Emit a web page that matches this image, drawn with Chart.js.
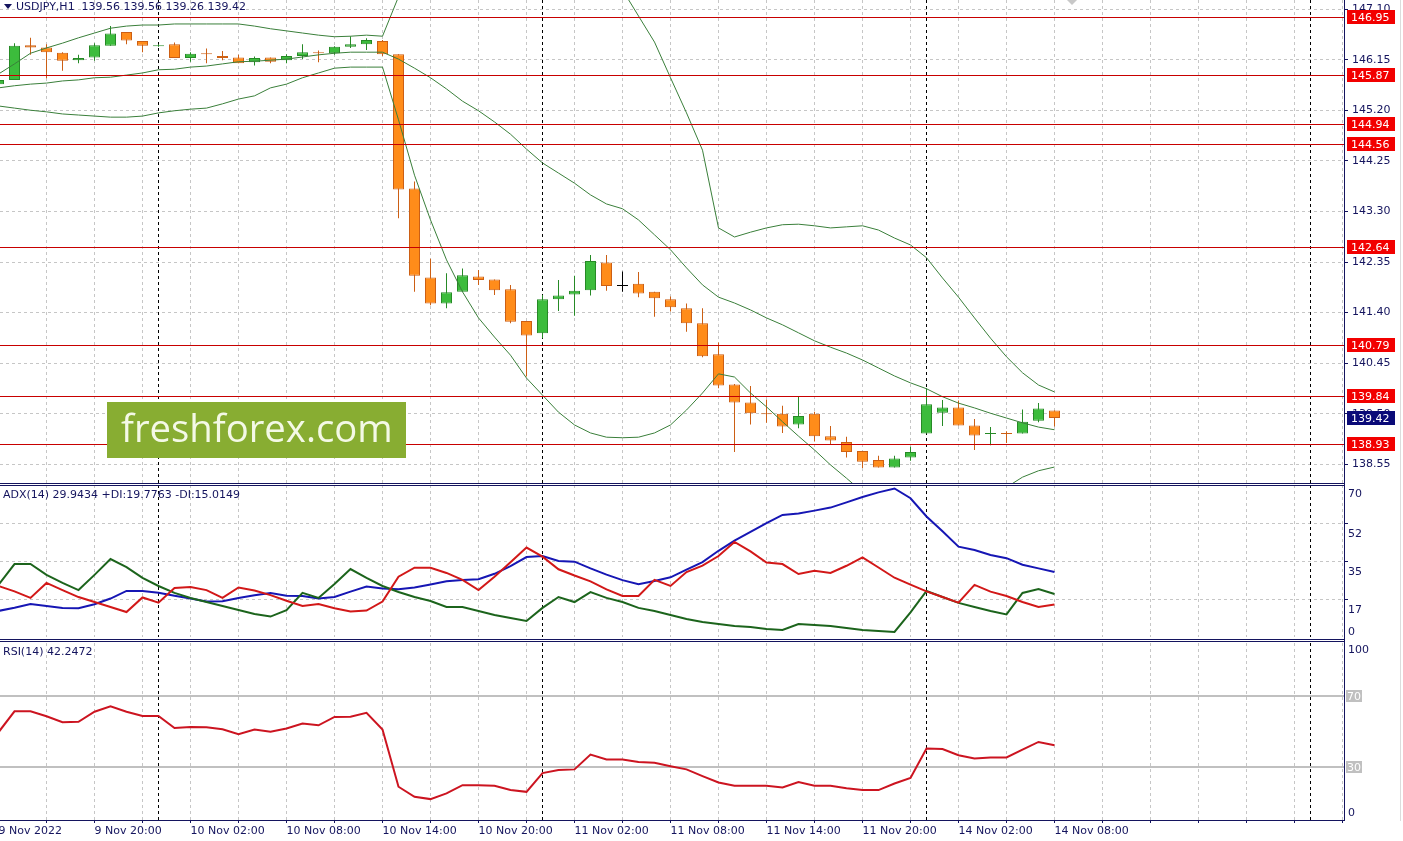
<!DOCTYPE html>
<html>
<head>
<meta charset="utf-8">
<script src="https://cdn.jsdelivr.net/npm/chart.js@4.4.0/dist/chart.umd.min.js"></script>
<style>
  html, body { margin: 0; padding: 0; background: #fff; }
  #wrap { position: relative; width: 1403px; height: 841px; overflow: hidden; background: #fff; }
  #wrap canvas { position: absolute; left: 0; }
  #edge { position: absolute; left: 1400px; top: 0; width: 1px; height: 821px; background: #dcdcdc; }
</style>
</head>
<body>
<div id="wrap">
  <canvas id="priceChart" width="1403" height="484" style="top:0px"></canvas>
  <canvas id="adxChart" width="1403" height="157" style="top:484px"></canvas>
  <canvas id="rsiChart" width="1403" height="200" style="top:641px"></canvas>
  <div id="edge"></div>
</div>
<script>
// ---------- data (one entry per H1 bar, 9 Nov 14:00 .. 14 Nov 08:00) ----------
const opens = [145.69,145.77,146.42,146.38,146.28,146.14,146.19,146.41,146.67,146.50,
  146.40,146.44,146.18,146.27,146.22,146.19,146.10,146.19,146.14,146.22,
  146.29,146.27,146.39,146.44,146.50,146.25,143.73,142.06,141.57,141.79,
  142.08,142.02,141.84,141.24,141.01,141.65,141.74,141.82,142.34,141.90,
  141.94,141.79,141.65,141.48,141.20,140.62,140.05,139.71,139.51,139.50,
  139.30,139.50,139.08,138.97,138.80,138.63,138.49,138.68,139.13,139.52,
  139.62,139.28,139.12,139.13,139.13,139.37,139.56];
const highs = [145.80,146.46,146.56,146.44,146.29,146.24,146.46,146.78,146.67,146.50,
  146.44,146.47,146.29,146.36,146.31,146.24,146.21,146.19,146.25,146.44,
  146.32,146.40,146.59,146.55,146.52,146.25,143.86,142.41,142.14,142.23,
  142.20,142.02,141.92,141.24,141.73,142.01,142.09,142.48,142.48,142.17,
  142.16,141.79,141.70,141.57,141.48,140.84,140.06,140.02,139.77,139.65,
  139.82,139.54,139.27,139.07,138.80,138.71,138.71,138.88,139.98,139.76,
  139.75,139.40,139.25,139.17,139.58,139.70,139.56];
const lows = [145.66,145.77,146.24,145.80,145.94,146.08,146.13,146.41,146.44,146.29,
  146.39,146.18,146.11,146.08,146.14,146.08,146.04,146.08,146.08,146.16,
  146.10,146.24,146.37,146.33,146.22,143.17,141.79,141.54,141.48,141.79,
  141.92,141.73,141.20,140.20,140.92,141.43,141.34,141.72,141.81,141.79,
  141.69,141.32,141.42,141.04,140.56,139.98,138.78,139.30,139.33,139.14,
  139.23,138.98,138.93,138.68,138.48,138.49,138.49,138.62,139.13,139.27,
  139.28,138.82,138.91,138.95,139.13,139.34,139.26];
const closes = [145.77,146.41,146.38,146.29,146.13,146.18,146.42,146.64,146.51,146.41,
  146.42,146.18,146.26,146.25,146.18,146.08,146.18,146.11,146.22,146.29,
  146.27,146.39,146.44,146.52,146.25,143.71,142.09,141.57,141.78,142.10,
  142.01,141.82,141.23,140.97,141.65,141.72,141.81,142.37,141.90,141.90,
  141.76,141.67,141.50,141.20,140.58,140.03,139.71,139.51,139.49,139.26,
  139.46,139.08,139.00,138.78,138.60,138.49,138.66,138.78,139.68,139.62,
  139.28,139.09,139.13,139.12,139.35,139.60,139.42];

const bbUpper = [145.88,146.07,146.27,146.37,146.46,146.56,146.65,146.74,146.78,146.80,
  146.80,146.82,146.82,146.82,146.82,146.82,146.78,146.73,146.69,146.65,
  146.61,146.58,146.59,146.61,146.59,147.33,147.91,148.40,148.62,148.90,
  149.02,149.05,148.92,148.68,148.57,148.43,148.27,148.02,147.74,147.46,
  146.97,146.48,145.81,145.15,144.45,142.99,142.82,142.91,142.99,143.05,
  143.06,143.03,142.99,143.01,143.03,142.95,142.80,142.67,142.43,142.05,
  141.69,141.30,140.92,140.57,140.27,140.04,139.91];
const bbMiddle = [145.62,145.66,145.69,145.71,145.75,145.77,145.81,145.82,145.86,145.90,
  145.96,145.97,146.01,146.03,146.07,146.11,146.12,146.14,146.16,146.20,
  146.24,146.27,146.29,146.29,146.29,146.16,145.99,145.81,145.60,145.37,
  145.19,144.98,144.75,144.47,144.21,144.02,143.83,143.61,143.44,143.35,
  143.14,142.86,142.58,142.24,141.92,141.69,141.58,141.45,141.30,141.17,
  141.02,140.87,140.75,140.64,140.51,140.36,140.21,140.08,139.97,139.82,
  139.70,139.61,139.51,139.42,139.33,139.25,139.20];
const bbLower = [145.28,145.24,145.20,145.17,145.13,145.11,145.09,145.07,145.07,145.09,
  145.15,145.19,145.22,145.24,145.32,145.41,145.47,145.62,145.69,145.81,
  145.90,145.99,146.01,146.01,146.01,145.02,143.98,143.14,142.39,141.79,
  141.30,140.94,140.60,140.17,139.85,139.53,139.29,139.14,139.06,139.05,
  139.06,139.14,139.29,139.57,139.89,140.25,140.19,139.89,139.63,139.35,
  139.08,138.82,138.54,138.29,138.03,137.79,137.66,137.60,137.66,137.73,
  137.79,137.88,137.97,138.12,138.31,138.43,138.50];

const adx = [12.0,13.5,15.2,14.3,13.4,13.2,15.1,17.7,21.2,21.2,
  20.4,19.0,17.7,16.4,16.5,18.0,19.2,20.3,19.0,18.9,
  17.7,18.4,20.9,23.2,22.3,22.0,22.8,24.2,25.7,26.3,
  26.6,29.1,32.6,36.8,37.3,35.0,34.7,31.6,28.7,26.2,
  24.3,25.8,27.5,31.0,34.5,39.7,44.4,48.4,52.4,56.2,
  56.9,58.2,59.6,62.0,64.5,66.6,68.4,63.9,55.5,48.7,
  41.6,40.1,37.8,36.3,33.3,31.6,29.94];
const plusDI = [24.0,33.6,33.6,28.6,24.9,21.6,28.6,35.9,32.2,27.2,
  23.5,20.3,18.0,16.1,14.3,12.4,10.6,9.4,12.4,20.3,
  18.0,24.4,31.3,27.2,23.5,20.7,18.4,16.6,13.8,13.8,
  12.0,10.1,8.8,7.4,13.4,18.4,16.1,20.7,18.0,16.1,
  13.4,12.0,10.1,8.3,6.9,6.0,5.1,4.6,3.7,3.2,
  6.0,5.5,5.1,4.1,3.2,2.8,2.3,11.3,21.2,18.4,
  15.7,13.8,12.0,10.4,20.3,22.1,19.78];
const minusDI = [23.5,21.0,18.0,24.9,21.6,18.4,16.1,13.8,11.5,18.2,
  15.8,22.6,23.0,21.6,18.0,22.8,21.4,19.3,16.7,14.3,
  15.2,13.2,11.7,12.2,16.3,27.8,31.9,31.9,29.5,26.3,
  21.6,27.7,34.4,41.2,37.0,31.2,28.3,25.6,21.9,18.9,
  18.9,26.3,23.5,29.9,32.9,37.3,43.8,39.4,34.3,33.6,
  29.0,30.5,29.5,32.8,36.7,32.0,27.3,24.1,21.0,18.4,
  15.8,24.0,20.9,18.9,16.1,13.8,15.01];
const rsi = [49.6,61.4,61.4,58.6,55.2,55.5,61.2,64.2,61.2,58.8,
  58.8,52.0,52.6,52.4,51.3,48.5,51.1,49.9,51.7,54.5,
  53.5,58.2,58.4,60.6,51.1,18.8,13.1,11.8,15.0,19.7,
  19.7,19.3,16.9,15.9,26.5,28.2,28.6,37.0,34.2,34.2,
  32.8,32.3,30.4,28.6,24.8,21.2,19.4,19.3,19.3,18.4,
  21.4,19.4,19.3,17.9,16.9,16.9,20.6,23.7,40.4,40.1,
  36.6,34.8,35.3,35.3,39.8,44.1,42.25];

const priceTicks = [147.10, 146.15, 145.20, 144.25, 143.30, 142.35, 141.40, 140.45, 139.50, 138.55];
const levels = [146.95, 145.87, 144.94, 144.56, 142.64, 140.79, 139.84, 138.93];
const lastPrice = 139.42;
const adxTicks = [0, 17.5, 35, 52.5, 70];
const adxTickLabels = ['0', '17', '35', '52', '70'];
const rsiLevels = [70, 30];
const timeLabelBars = [0, 6, 12, 18, 24, 30, 36, 42, 48, 54, 60, 66];
const timeLabels = ['9 Nov 2022', '9 Nov 20:00', '10 Nov 02:00', '10 Nov 08:00', '10 Nov 14:00',
  '10 Nov 20:00', '11 Nov 02:00', '11 Nov 08:00', '11 Nov 14:00', '11 Nov 20:00',
  '14 Nov 02:00', '14 Nov 08:00'];
const dayStartBars = [10, 34, 58, 82];
const mainTitle = 'USDJPY,H1  139.56 139.56 139.26 139.42';
const adxTitle = 'ADX(14) 29.9434 +DI:19.7763 -DI:15.0149';
const rsiTitle = 'RSI(14) 42.2472';

// ---------- look ----------
const navy = '#14145e';
const gridColor = '#c6c6c6';
const bullFill = '#3cbc3c', bullLine = '#268a26';
const bearFill = '#ff8c1a', bearLine = '#cc5f14';
const bandColor = '#3a7f3a';
const axisFont = { family: 'DejaVu Sans', size: 11 };
const FONT = '11px "DejaVu Sans"';
Chart.defaults.font.family = 'DejaVu Sans';

const xMin = 0.09375;
const xMax = xMin + 1344 / 16;
const xTickValues = [0];
for (let v = 3; v <= 84; v += 3) xTickValues.push(v);
const clear = 'rgba(0,0,0,0)';

function xAxis(withLabels) {
  return {
    type: 'linear', min: xMin, max: xMax, offset: false,
    grid: {
      offset: false,
      color: c => (c.tick && c.tick.value === 0) ? clear : gridColor,
      drawTicks: withLabels, tickLength: 3,
      tickColor: c => (c.tick && c.tick.value === 0) ? clear : navy
    },
    border: { display: false, dash: [3, 3] },
    ticks: {
      display: withLabels, autoSkip: false, maxRotation: 0, minRotation: 0,
      align: 'start', padding: 2, color: navy, font: axisFont,
      callback: v => { const k = timeLabelBars.indexOf(v); return k >= 0 ? timeLabels[k] : ''; }
    },
    afterBuildTicks: s => { s.ticks = xTickValues.map(v => ({ value: v })); },
    afterFit: s => { s.height = withLabels ? 21 : 0; s.paddingLeft = 0; s.paddingRight = 0; }
  };
}

function fitRight(s) { s.width = 59; s.paddingTop = 0; s.paddingBottom = 0; }

function candleKind(i) {
  if (closes[i] > opens[i]) return 'bull';
  if (closes[i] < opens[i]) return 'bear';
  return 'doji';
}
const fillFor = i => ({ bull: bullFill, bear: bearFill, doji: '#000' })[candleKind(i)];
const lineFor = i => ({ bull: bullLine, bear: bearLine, doji: '#000' })[candleKind(i)];

function drawDaySeparators(chart) {
  const { ctx, chartArea: a, scales: { x } } = chart;
  ctx.save();
  ctx.strokeStyle = '#000';
  ctx.lineWidth = 1;
  ctx.setLineDash([3, 3]);
  dayStartBars.forEach(b => {
    const px = Math.floor(x.getPixelForValue(b)) + 0.5;
    ctx.beginPath();
    ctx.moveTo(px, a.top);
    ctx.lineTo(px, a.bottom);
    ctx.stroke();
  });
  ctx.restore();
}

function drawTitle(ctx, text, y) {
  ctx.fillStyle = navy;
  ctx.font = FONT;
  ctx.textBaseline = 'middle';
  ctx.fillText(text, 3, y);
}

const priceDecor = {
  id: 'priceDecor',
  beforeDatasetsDraw: drawDaySeparators,
  afterDatasetsDraw(chart) {
    const { ctx, chartArea: a, scales: { y } } = chart;
    ctx.save();
    ctx.fillStyle = '#c80000';
    levels.forEach(v => ctx.fillRect(a.left, Math.round(y.getPixelForValue(v)), a.right - a.left, 1));
    ctx.restore();
  },
  afterDraw(chart) {
    const { ctx, chartArea: a, scales: { y } } = chart;
    ctx.save();
    ctx.fillStyle = navy;
    ctx.fillRect(a.left, a.bottom, a.right - a.left, 1);
    ctx.fillRect(a.right, 0, 1, chart.height);
    ctx.font = FONT;
    ctx.textBaseline = 'middle';
    levels.forEach(v => {
      const py = Math.round(y.getPixelForValue(v));
      ctx.fillStyle = '#f20000';
      ctx.fillRect(a.right + 3, py - 7, 48, 14);
      ctx.fillStyle = '#fff';
      ctx.fillText(v.toFixed(2), a.right + 7, py + 1);
    });
    const lp = Math.round(y.getPixelForValue(lastPrice));
    ctx.fillStyle = '#0a0a78';
    ctx.fillRect(a.right + 3, lp - 7, 48, 14);
    ctx.fillStyle = '#fff';
    ctx.fillText(lastPrice.toFixed(2), a.right + 7, lp + 1);

    // header
    ctx.fillStyle = navy;
    ctx.beginPath();
    ctx.moveTo(4, 4); ctx.lineTo(12, 4); ctx.lineTo(8, 9); ctx.closePath();
    ctx.fill();
    ctx.fillText(mainTitle, 16, 7);

    // chart shift marker
    ctx.fillStyle = '#c8c8c8';
    ctx.beginPath();
    ctx.moveTo(1067, 0); ctx.lineTo(1077, 0); ctx.lineTo(1072, 5); ctx.closePath();
    ctx.fill();

    // watermark
    ctx.fillStyle = '#88ad32';
    ctx.fillRect(107, 402, 299, 56);
    ctx.fillStyle = '#f4f9e6';
    ctx.font = '36px "Open Sans"';
    const w = ctx.measureText('freshforex.com').width;
    ctx.font = (36 * 272 / w).toFixed(1) + 'px "Open Sans"';
    ctx.textBaseline = 'alphabetic';
    ctx.fillText('freshforex.com', 121, 442);
    ctx.restore();
  }
};

const adxDecor = {
  id: 'adxDecor',
  beforeDatasetsDraw: drawDaySeparators,
  afterDraw(chart) {
    const { ctx, chartArea: a, scales: { y } } = chart;
    ctx.save();
    ctx.fillStyle = navy;
    ctx.fillRect(a.left, a.top, a.right - a.left, 1);
    ctx.fillRect(a.left, a.bottom + 2, a.right - a.left, 1);
    ctx.fillRect(a.right, 0, 1, chart.height);
    ctx.font = FONT;
    ctx.textBaseline = 'middle';
    adxTicks.forEach((v, k) => {
      const off = v === 70 ? 9 : (v === 0 ? -5 : 11);
      ctx.fillText(adxTickLabels[k], a.right + 4, y.getPixelForValue(v) + off);
    });
    drawTitle(ctx, adxTitle, 11);
    ctx.restore();
  }
};

const rsiDecor = {
  id: 'rsiDecor',
  beforeDatasetsDraw(chart) {
    drawDaySeparators(chart);
    const { ctx, chartArea: a, scales: { y } } = chart;
    ctx.save();
    ctx.fillStyle = '#c0c0c0';
    rsiLevels.forEach(v => ctx.fillRect(a.left, Math.round(y.getPixelForValue(v)) - 1, a.right - a.left, 2));
    ctx.restore();
  },
  afterDraw(chart) {
    const { ctx, chartArea: a, scales: { y } } = chart;
    ctx.save();
    ctx.fillStyle = navy;
    ctx.fillRect(a.left, 0, a.right - a.left, 1);
    ctx.fillRect(a.left, a.bottom, a.right - a.left, 1);
    ctx.fillRect(a.right, 0, 1, a.bottom + 1);
    ctx.font = FONT;
    ctx.textBaseline = 'middle';
    ctx.fillText('100', a.right + 4, y.getPixelForValue(100) + 7);
    ctx.fillText('0', a.right + 4, y.getPixelForValue(0) - 7);
    rsiLevels.forEach(v => {
      const py = Math.round(y.getPixelForValue(v));
      ctx.fillStyle = '#c0c0c0';
      ctx.fillRect(a.right + 2, py - 6, 16, 12);
      ctx.fillStyle = '#fff';
      ctx.fillText(String(v), a.right + 3, py + 1);
    });
    drawTitle(ctx, rsiTitle, 11);
    ctx.restore();
  }
};

const common = {
  responsive: false,
  animation: false,
  devicePixelRatio: 1,
  events: [],
  plugins: { legend: { display: false }, tooltip: { enabled: false } }
};

function series(values) { return values.map((v, i) => ({ x: i, y: v })); }
function lineSet(values, color, width, order) {
  return { type: 'line', data: series(values), borderColor: color, borderWidth: width,
    pointRadius: 0, tension: 0, clip: 0, order: order };
}

new Chart(document.getElementById('priceChart'), {
  type: 'bar',
  data: {
    datasets: [
      { type: 'bar', order: 3, grouped: false, clip: 0,
        data: lows.map((l, i) => ({ x: i, y: [l, highs[i]] })),
        barThickness: 1, borderWidth: 0, inflateAmount: 0,
        backgroundColor: c => lineFor(c.dataIndex) },
      { type: 'bar', order: 2, grouped: false, clip: 0,
        data: opens.map((o, i) => ({ x: i, y: [o, closes[i]] })),
        barThickness: 11, minBarLength: 1, borderWidth: 1, borderSkipped: false, inflateAmount: 0,
        backgroundColor: c => fillFor(c.dataIndex), borderColor: c => lineFor(c.dataIndex) },
      lineSet(bbUpper, bandColor, 1, 1),
      lineSet(bbMiddle, bandColor, 1, 1),
      lineSet(bbLower, bandColor, 1, 1)
    ]
  },
  options: Object.assign({}, common, {
    layout: { padding: { top: 0, bottom: 1, left: 0, right: 0 } },
    scales: {
      x: xAxis(false),
      y: {
        position: 'right', min: 138.20, max: 147.27,
        grid: { color: gridColor, tickLength: 4, tickColor: navy },
        border: { display: false, dash: [3, 3] },
        ticks: { color: navy, font: axisFont, padding: 4, autoSkip: false, callback: v => v.toFixed(2) },
        afterBuildTicks: s => { s.ticks = priceTicks.map(v => ({ value: v })); },
        afterFit: fitRight
      }
    }
  }),
  plugins: [priceDecor]
});

new Chart(document.getElementById('adxChart'), {
  type: 'line',
  data: {
    datasets: [
      lineSet(adx, '#1616b4', 2, 3),
      lineSet(plusDI, '#1c641c', 2, 2),
      lineSet(minusDI, '#d21818', 2, 1)
    ]
  },
  options: Object.assign({}, common, {
    layout: { padding: { top: 1, bottom: 4, left: 0, right: 0 } },
    scales: {
      x: xAxis(false),
      y: {
        position: 'right', min: 0, max: 70,
        grid: { color: c => (c.tick && (c.tick.value === 0 || c.tick.value === 70)) ? clear : gridColor,
                tickLength: 4, tickColor: c => (c.tick && (c.tick.value === 0 || c.tick.value === 70)) ? clear : navy },
        border: { display: false, dash: [3, 3] },
        ticks: { display: false },
        afterBuildTicks: s => { s.ticks = adxTicks.map(v => ({ value: v })); },
        afterFit: fitRight
      }
    }
  }),
  plugins: [adxDecor]
});

new Chart(document.getElementById('rsiChart'), {
  type: 'line',
  data: { datasets: [lineSet(rsi, '#cc1420', 2, 1)] },
  options: Object.assign({}, common, {
    layout: { padding: { top: 2, bottom: 0, left: 0, right: 0 } },
    scales: {
      x: xAxis(true),
      y: {
        position: 'right', min: 0, max: 100,
        grid: { display: false },
        border: { display: false },
        ticks: { display: false },
        afterFit: fitRight
      }
    }
  }),
  plugins: [rsiDecor]
});
</script>
</body>
</html>
